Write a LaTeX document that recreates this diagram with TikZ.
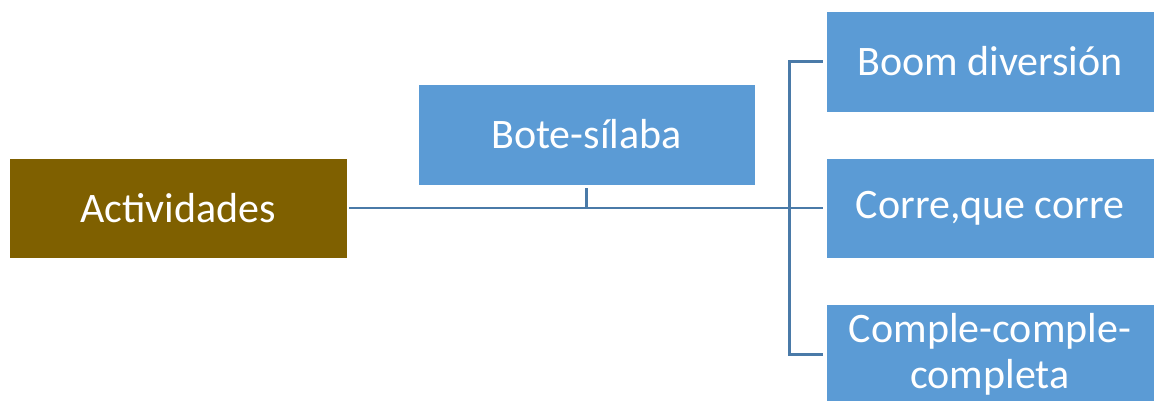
\documentclass[tikz,border=0pt]{standalone}
\usepackage{fontspec}
\setmainfont{Carlito}
\definecolor{boxblue}{HTML}{5B9BD5}
\definecolor{boxgold}{HTML}{7F6000}
\definecolor{linecol}{HTML}{4A7AA8}
\begin{document}
\begin{tikzpicture}[x=1pt,y=-1pt,
  box/.style={rectangle, fill=boxblue, draw=white, line width=0.8pt, text=white, inner sep=0pt,
    minimum width=328pt, minimum height=101pt, align=center,
    font=\fontsize{42}{46}\selectfont},
  conn/.style={draw=linecol, line width=2.6pt}]
\clip (0,0) rectangle (1154,401);
\fill[white] (0,0) rectangle (1154,401);
\node[box, fill=boxgold, minimum width=338pt, minimum height=100pt] (act) at (178,208) {Actividades};
\node[box, minimum width=337pt] (bote) at (586.5,134.5) {Bote-sílaba};
\node[box] (b1) at (990,61.5) {Boom diversión};
\node[box, minimum height=100pt] (b2) at (990,208) {Corre,que corre};
\node[box] (b3) at (990,354.5) {Comple-comple-\\completa};
\draw[conn, shorten <=2pt, shorten >=3pt] (act.east) -- (b2.west);
\draw[conn, shorten <=3pt] (bote.south) -- (bote.south |- act.east);
\draw[conn, shorten <=3pt, shorten >=3pt] (b1.west) -- ++(-36,0) |- (b3.west);
\end{tikzpicture}
\end{document}
